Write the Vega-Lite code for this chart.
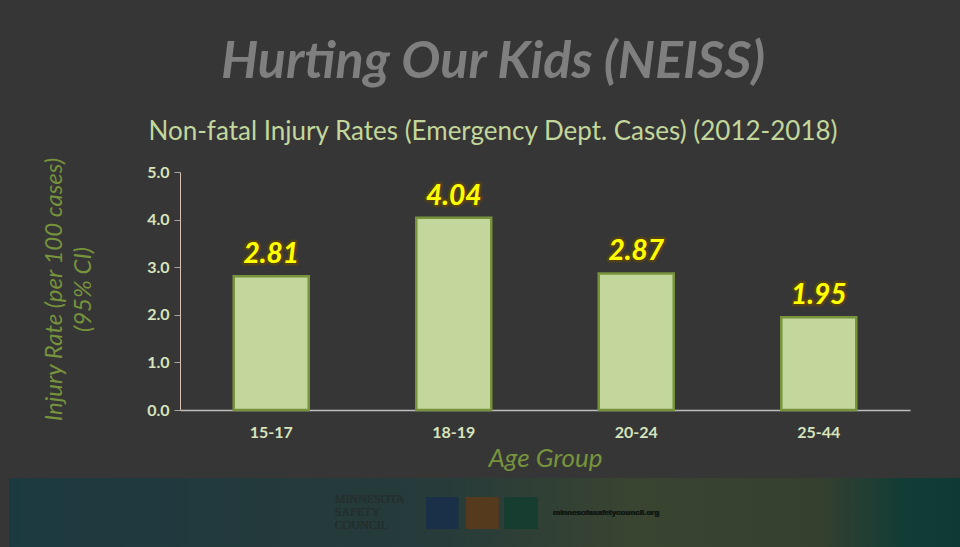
{
  "$schema": "https://vega.github.io/schema/vega-lite/v6.json",
  "width": 730,
  "height": 238,
  "autosize": {"type": "none"},
  "padding": {"left": 180, "top": 172, "right": 50, "bottom": 137},
  "background": "#363636",
  "title": {
    "text": "Hurting Our Kids (NEISS)",
    "subtitle": "Non-fatal Injury Rates (Emergency Dept. Cases) (2012-2018)",
    "anchor": "middle",
    "frame": "group",
    "dx": -52,
    "offset": 11,
    "font": "Lato",
    "fontSize": 52,
    "fontWeight": "bold",
    "fontStyle": "italic",
    "color": "#7f7f7f",
    "subtitleFont": "Lato",
    "subtitleFontSize": 26,
    "subtitleColor": "#c3d69b",
    "subtitlePadding": 30
  },
  "config": {
    "view": {"stroke": null},
    "axis": {"labelFont": "Lato", "titleFont": "Lato"}
  },
  "data": {
    "values": [
      {"age": "15-17", "rate": 2.81},
      {"age": "18-19", "rate": 4.04},
      {"age": "20-24", "rate": 2.87},
      {"age": "25-44", "rate": 1.95}
    ]
  },
  "resolve": {"scale": {"x": "independent"}, "axis": {"x": "independent"}},
  "layer": [
    {
      "layer": [
        {
          "mark": {
            "type": "rect",
            "clip": false,
            "fill": {
              "gradient": "linear",
              "x1": 0, "x2": 1, "y1": 0, "y2": 0,
              "stops": [
                {"offset": 0, "color": "#1b3a40"},
                {"offset": 0.2, "color": "#22393d"},
                {"offset": 0.45, "color": "#263b3a"},
                {"offset": 0.65, "color": "#394431"},
                {"offset": 0.85, "color": "#36402f"},
                {"offset": 0.94, "color": "#123c36"},
                {"offset": 1, "color": "#0f3a34"}
              ]
            }
          },
          "encoding": {
            "x": {"datum": -0.234, "type": "quantitative", "scale": {"domain": [0, 1]}, "axis": null},
            "x2": {"datum": 1.07},
            "y": {"datum": -1.43, "type": "quantitative"},
            "y2": {"datum": -2.95}
          }
        },
        {
          "mark": {"type": "rect", "clip": false, "fill": "#1a3048"},
          "encoding": {
            "x": {"datum": 0.337, "type": "quantitative", "axis": null},
            "x2": {"datum": 0.381},
            "y": {"datum": -1.83, "type": "quantitative"},
            "y2": {"datum": -2.5}
          }
        },
        {
          "mark": {"type": "rect", "clip": false, "fill": "#553a1e"},
          "encoding": {
            "x": {"datum": 0.392, "type": "quantitative", "axis": null},
            "x2": {"datum": 0.436},
            "y": {"datum": -1.83, "type": "quantitative"},
            "y2": {"datum": -2.5}
          }
        },
        {
          "mark": {"type": "rect", "clip": false, "fill": "#173d31"},
          "encoding": {
            "x": {"datum": 0.444, "type": "quantitative", "axis": null},
            "x2": {"datum": 0.49},
            "y": {"datum": -1.83, "type": "quantitative"},
            "y2": {"datum": -2.5}
          }
        },
        {
          "mark": {"type": "text", "clip": false, "font": "Liberation Serif", "fontSize": 12, "align": "left", "baseline": "top", "lineHeight": 13, "fill": "#24302f"},
          "encoding": {
            "x": {"datum": 0.212, "type": "quantitative", "axis": null},
            "y": {"datum": -1.77, "type": "quantitative"},
            "text": {"value": ["MINNESOTA", "SAFETY", "COUNCIL"]}
          }
        },
        {
          "mark": {"type": "text", "clip": false, "font": "Liberation Sans", "fontSize": 8, "fontWeight": "bold", "align": "left", "baseline": "middle", "fill": "#121a14"},
          "encoding": {
            "x": {"datum": 0.511, "type": "quantitative", "axis": null},
            "y": {"datum": -2.164, "type": "quantitative"},
            "text": {"value": "minnesotasafetycouncil.org"}
          }
        }
      ]
    },
    {
      "encoding": {
        "x": {
          "field": "age",
          "type": "nominal",
          "scale": {"type": "band", "paddingInner": 0.589, "paddingOuter": 0.2945},
          "axis": {
            "orient": "bottom",
            "title": "Age Group",
            "labelAngle": 0,
            "labelFontSize": 16,
            "labelFontWeight": "bold",
            "labelColor": "#d7e4bd",
            "labelPadding": 14,
            "ticks": false,
            "domainColor": "#bfbfbf",
            "domainWidth": 1.5,
            "titleFontSize": 26,
            "titleFontStyle": "italic",
            "titleFontWeight": "normal",
            "titleColor": "#77933c",
            "titlePadding": 5
          }
        },
        "y": {
          "field": "rate",
          "type": "quantitative",
          "scale": {"domain": [0, 5], "nice": false},
          "axis": {
            "title": ["Injury Rate (per 100 cases)", "(95% CI)"],
            "values": [0, 1, 2, 3, 4, 5],
            "format": ".1f",
            "labelFontSize": 16,
            "labelFontWeight": "bold",
            "labelColor": "#d7e4bd",
            "labelPadding": 5,
            "tickSize": 6,
            "tickColor": "#a6a6a6",
            "domainColor": "#d9c3b3",
            "gridColor": "#a6a6a6",
            "gridWidth": 1,
            "titleFontSize": 24,
            "titleFontStyle": "italic",
            "titleFontWeight": "normal",
            "titleColor": "#77933c",
            "titleLineHeight": 29,
            "titleAngle": -90,
            "titleAlign": "center",
            "titleBaseline": "middle",
            "titleX": -126,
            "titleY": 117
          }
        }
      },
      "layer": [
        {
          "mark": {"type": "bar", "fill": "#c3d69b", "stroke": "#77933c", "strokeWidth": 2.5}
        },
        {
          "mark": {"type": "text", "font": "Lato", "fontSize": 28, "fontWeight": "bold", "fontStyle": "italic", "baseline": "bottom", "dy": -7, "fill": "#ffff00", "stroke": "#6b4a00", "strokeWidth": 5, "strokeOpacity": 0.55, "strokeJoin": "round"},
          "encoding": {
            "text": {"field": "rate", "type": "quantitative", "format": ".2f"}
          }
        },
        {
          "mark": {"type": "text", "font": "Lato", "fontSize": 28, "fontWeight": "bold", "fontStyle": "italic", "baseline": "bottom", "dy": -7, "fill": "#ffff00"},
          "encoding": {
            "text": {"field": "rate", "type": "quantitative", "format": ".2f"}
          }
        }
      ]
    }
  ]
}
